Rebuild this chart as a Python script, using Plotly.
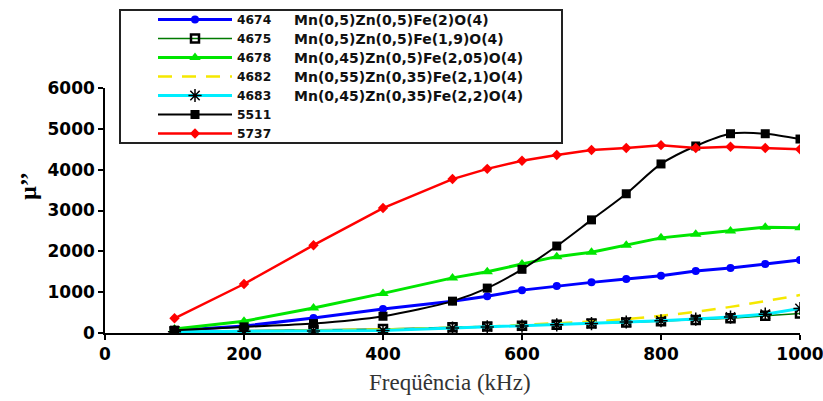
import plotly.graph_objects as go

freq = [100, 200, 300, 400, 500, 550, 600, 650, 700, 750, 800, 850, 900, 950, 1000]

s4674 = [60, 170, 370, 590, 780, 900, 1050, 1150, 1240, 1320, 1400, 1520, 1590, 1690, 1790]
s4675 = [40, 60, 80, 100, 140, 160, 180, 200, 230, 260, 290, 320, 360, 420, 480]
s4678 = [100, 290, 610, 970, 1350, 1500, 1690, 1870, 1980, 2150, 2330, 2420, 2500, 2590, 2580]
s4682 = [20, 40, 60, 90, 130, 160, 200, 240, 280, 340, 420, 520, 640, 780, 930]
s4683 = [30, 40, 50, 60, 120, 150, 170, 200, 230, 270, 300, 340, 390, 460, 600]
s5511 = [70, 150, 230, 410, 780, 1100, 1560, 2130, 2770, 3410, 4140, 4580, 4880, 4880, 4750]
s5737 = [360, 1200, 2150, 3060, 3770, 4020, 4220, 4360, 4480, 4530, 4600, 4530, 4560, 4530, 4500]

codes = ["4674", "4675", "4678", "4682", "4683", "5511", "5737"]
formulas = ["Mn(0,5)Zn(0,5)Fe(2)O(4)", "Mn(0,5)Zn(0,5)Fe(1,9)O(4)",
            "Mn(0,45)Zn(0,5)Fe(2,05)O(4)", "Mn(0,55)Zn(0,35)Fe(2,1)O(4)",
            "Mn(0,45)Zn(0,35)Fe(2,2)O(4)"]
x_ticks = [0, 200, 400, 600, 800, 1000]
y_ticks = [0, 1000, 2000, 3000, 4000, 5000, 6000]

# pixel helpers for layout (plot area: x 105..800, y 88..333)
L, R, T, B = 105, 800, 88, 333
W, H = 823, 401
def px_x(p):
    return (p - L) / (R - L)
def px_y(p):
    return (B - p) / (B - T)

fig = go.Figure()

styles = [
    dict(line=dict(color="#0000ff", width=3), marker=dict(symbol="circle", size=8, color="#0000ff")),
    dict(line=dict(color="#007a00", width=1.5), marker=dict(symbol="square-open", size=8, color="#000000", line=dict(width=2.5, color="#000000"))),
    dict(line=dict(color="#00e600", width=3), marker=dict(symbol="triangle-up", size=10, color="#00e600")),
    dict(line=dict(color="#f5e800", width=2.5, dash="14px,10px", shape="spline"), marker=dict(size=1, opacity=0)),
    dict(line=dict(color="#00eeff", width=3), marker=dict(symbol="asterisk-open", size=11, color="#000000", line=dict(width=1.5, color="#000000"))),
    dict(line=dict(color="#000000", width=2, shape="spline", smoothing=0.8), marker=dict(symbol="square", size=9, color="#000000")),
    dict(line=dict(color="#ff0000", width=2.5), marker=dict(symbol="diamond", size=8, color="#ff0000")),
]
series = [s4674, s4675, s4678, s4682, s4683, s5511, s5737]
for code, ys, st in zip(codes, series, styles):
    mode = "lines" if code == "4682" else "lines+markers"
    fig.add_trace(go.Scatter(x=freq, y=ys, name=code, mode=mode, **st))

fig.update_layout(
    width=W, height=H,
    margin=dict(l=L, r=W - R, t=T, b=H - B, autoexpand=False),
    paper_bgcolor="white", plot_bgcolor="white",
    showlegend=True,
    legend=dict(x=px_x(153), y=px_y(5), xanchor="left", yanchor="top",
                bgcolor="rgba(0,0,0,0)", borderwidth=0, itemwidth=74,
                font=dict(family="DejaVu Sans", size=12.3, weight="bold", color="#111")),
    xaxis=dict(range=[0, 1000], tickvals=x_ticks, ticks="outside", ticklen=5, tickwidth=1.5,
               tickcolor="black", showline=True, linecolor="black", linewidth=1.5,
               showgrid=False, zeroline=False, automargin=False, ticklabeloverflow="allow",
               tickfont=dict(family="DejaVu Sans", size=17, weight="bold", color="black")),
    yaxis=dict(range=[0, 6000], tickvals=y_ticks, ticks="outside", ticklen=5, tickwidth=1.5,
               tickcolor="black", showline=True, linecolor="black", linewidth=1.5,
               showgrid=False, zeroline=False, automargin=False, ticklabeloverflow="allow",
               tickfont=dict(family="DejaVu Sans", size=17, weight="bold", color="black")),
)

fig.add_shape(type="rect", xref="paper", yref="paper",
              x0=px_x(120), x1=px_x(562), y0=px_y(143), y1=px_y(10),
              line=dict(color="#222", width=2), fillcolor="rgba(0,0,0,0)", layer="above")

for i, f in enumerate(formulas):
    fig.add_annotation(text=f, xref="paper", yref="paper", x=px_x(292), y=px_y(20 + 19 * i),
                       xanchor="left", yanchor="middle", showarrow=False,
                       font=dict(family="DejaVu Sans", size=14, weight="bold", color="#111"))

fig.add_annotation(text="µ’’", xref="paper", yref="paper", x=px_x(28), y=px_y(186),
                   textangle=-90, showarrow=False, xanchor="center", yanchor="middle",
                   font=dict(family="Liberation Serif", size=24, weight="bold", color="black"))
fig.add_annotation(text="Freqüência (kHz)", xref="paper", yref="paper", x=px_x(450), y=px_y(382),
                   showarrow=False, xanchor="center", yanchor="middle",
                   font=dict(family="Liberation Serif", size=23, color="#333"))

fig.write_html("out.html")
